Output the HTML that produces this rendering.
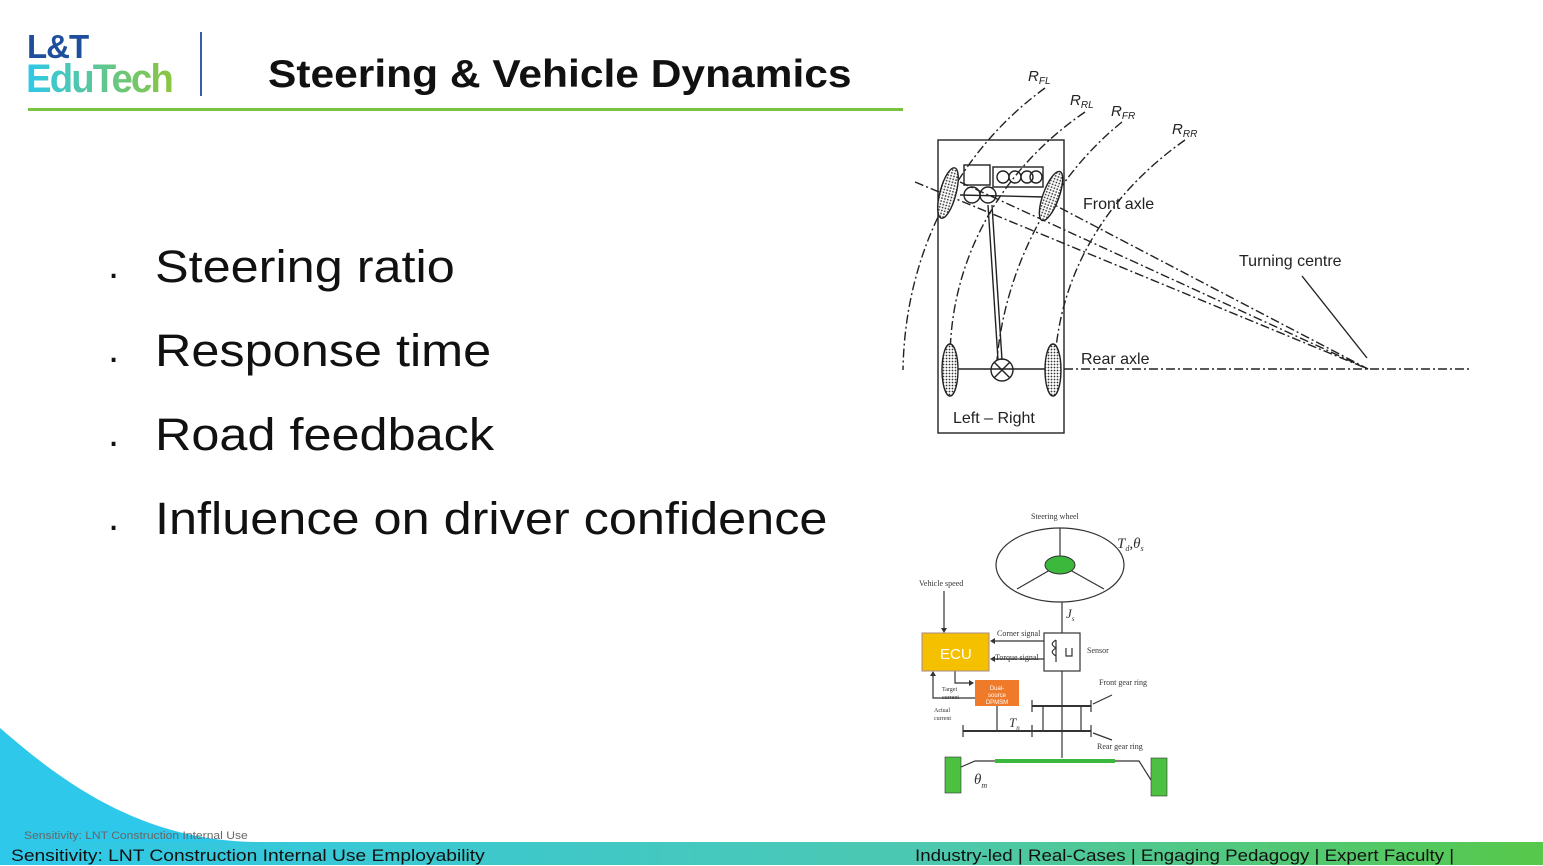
<!DOCTYPE html>
<html><head><meta charset="utf-8"><style>
body{margin:0;width:1543px;height:865px;overflow:hidden;background:#fff;font-family:"Liberation Sans",sans-serif;position:relative}
.a{position:absolute;white-space:nowrap;transform-origin:0 0}
.b{font-size:45px;color:#111;left:155px;transform:scaleX(1.12)}
.d{font-size:40px;left:108px;color:#111}
</style></head><body>
<svg width="1543" height="865" style="position:absolute;left:0;top:0">
<defs>
<linearGradient id="g" x1="0" x2="1"><stop offset="0" stop-color="#2ec8ea"/><stop offset="0.6" stop-color="#4cc8b0"/><stop offset="1" stop-color="#56c84a"/></linearGradient>
<pattern id="dots" width="3" height="3" patternUnits="userSpaceOnUse"><rect width="3" height="3" fill="#fff"/><circle cx="1.5" cy="1.5" r="0.9" fill="#333"/></pattern>
</defs>
<path d="M0 728 C60 780 140 842 260 842 L0 842 Z" fill="#2ec8ea"/>
<rect x="0" y="842" width="1543" height="23" fill="url(#g)"/>
<line x1="201" y1="32" x2="201" y2="96" stroke="#3a5ca8" stroke-width="2"/>
<rect x="28" y="108" width="875" height="3" fill="#7cc242"/>
<g fill="none" stroke="#222" stroke-width="1.4">
<rect x="938" y="140" width="126" height="293"/>
<g stroke-dasharray="9,3,2,3">
<path d="M1045 88 C960 150 905 250 903 370"/>
<path d="M1085 112 C1000 170 950 260 950 360"/>
<path d="M1122 122 C1050 180 1005 270 997 360"/>
<path d="M1185 140 C1100 200 1060 280 1055 360"/>
<line x1="1045" y1="200" x2="1368" y2="369"/>
<line x1="960" y1="182" x2="1368" y2="369"/>
<line x1="915" y1="182" x2="1368" y2="369"/>
<line x1="1064" y1="369" x2="1470" y2="369"/>
</g>
<line x1="1302" y1="276" x2="1367" y2="358"/>
<line x1="950" y1="369" x2="1053" y2="369"/>
<rect x="964" y="165" width="26" height="20"/>
<rect x="993" y="167" width="50" height="20"/>
<circle cx="1003" cy="177" r="6"/><circle cx="1015" cy="177" r="6"/><circle cx="1027" cy="177" r="6"/><circle cx="1036" cy="177" r="6"/>
<line x1="960" y1="195" x2="1045" y2="197"/>
<circle cx="972" cy="195" r="8"/><circle cx="988" cy="195" r="8"/>
<line x1="988" y1="205" x2="998" y2="360"/><line x1="992" y1="205" x2="1002" y2="360"/>
<circle cx="1002" cy="370" r="11"/>
<line x1="994" y1="362" x2="1010" y2="378"/><line x1="1010" y1="362" x2="994" y2="378"/>
<ellipse cx="948" cy="193" rx="8" ry="26" transform="rotate(15 948 193)" fill="url(#dots)"/>
<ellipse cx="1051" cy="196" rx="8" ry="26" transform="rotate(20 1051 196)" fill="url(#dots)"/>
<ellipse cx="950" cy="370" rx="8" ry="26" fill="url(#dots)"/>
<ellipse cx="1053" cy="370" rx="8" ry="26" fill="url(#dots)"/>
</g>
<g font-family="Liberation Sans,sans-serif" fill="#222" font-size="16">
<text x="1083" y="209">Front axle</text>
<text x="1239" y="266">Turning centre</text>
<text x="1081" y="364">Rear axle</text>
<text x="953" y="423">Left – Right</text>
<g font-style="italic" font-size="15"><text x="1028" y="81">R<tspan font-size="10" dy="3">FL</tspan></text>
<text x="1070" y="105">R<tspan font-size="10" dy="3">RL</tspan></text>
<text x="1111" y="116">R<tspan font-size="10" dy="3">FR</tspan></text>
<text x="1172" y="134">R<tspan font-size="10" dy="3">RR</tspan></text></g>
</g>
<g fill="none" stroke="#333" stroke-width="1.2">
<ellipse cx="1060" cy="565" rx="64" ry="37"/>
<line x1="1060" y1="528" x2="1060" y2="558"/><line x1="1050" y1="570" x2="1017" y2="589"/><line x1="1070" y1="570" x2="1104" y2="589"/>
<line x1="1062" y1="602" x2="1062" y2="633"/>
<rect x="1044" y="633" width="36" height="38" fill="#fff"/>
<path d="M1056 640 v22 M1056 640 c-5 3 -5 5 0 8 c-5 3 -5 5 0 8 M1066 648 v8 h6 v-8"/>
<line x1="1062" y1="671" x2="1062" y2="758"/>
<line x1="1032" y1="706" x2="1091" y2="706" stroke-width="2"/>
<line x1="1032" y1="700" x2="1032" y2="712"/><line x1="1091" y1="700" x2="1091" y2="712"/>
<line x1="963" y1="731" x2="1091" y2="731" stroke-width="2"/>
<line x1="963" y1="725" x2="963" y2="737"/><line x1="1091" y1="725" x2="1091" y2="737"/><line x1="1032" y1="725" x2="1032" y2="737"/>
<line x1="1043" y1="706" x2="1043" y2="731"/><line x1="1081" y1="706" x2="1081" y2="731"/>
<line x1="997" y1="706" x2="997" y2="731"/>
<line x1="1093" y1="704" x2="1112" y2="695"/><line x1="1093" y1="733" x2="1112" y2="740"/>
<line x1="944" y1="591" x2="944" y2="631"/>
<line x1="1044" y1="641" x2="992" y2="641"/><line x1="1044" y1="659" x2="992" y2="659"/>
<polyline points="955,671 955,683 973,683"/>
<polyline points="975,698 933,698 933,673"/>
<polyline points="961,767 975,761 1139,761 1151,780"/>
</g>
<path d="M944 633 l-3 -5 h6z M990 641 l5 -3 v6z M990 659 l5 -3 v6z M974 683 l-5 -3 v6z M933 671 l-3 5 h6z" fill="#333"/>
<rect x="922" y="633" width="67" height="38" fill="#f5c000" stroke="#a88"/>
<rect x="975" y="680" width="44" height="26" fill="#ee7a2a"/>
<rect x="995" y="759" width="120" height="4" fill="#3cb83c"/>
<rect x="945" y="757" width="16" height="36" fill="#4cc040" stroke="#333" stroke-width="0.6"/>
<rect x="1151" y="758" width="16" height="38" fill="#4cc040" stroke="#333" stroke-width="0.6"/>
<ellipse cx="1060" cy="565" rx="15" ry="9" fill="#3cb83c" stroke="#333"/>
<g font-family="Liberation Serif,serif" fill="#333" font-size="8">
<text x="1031" y="519">Steering wheel</text>
<text x="919" y="586">Vehicle speed</text>
<text x="997" y="636">Corner signal</text>
<text x="995" y="660">Torque signal</text>
<text x="1087" y="653">Sensor</text>
<text x="1099" y="685">Front gear ring</text>
<text x="1097" y="749">Rear gear ring</text>
<text x="942" y="691" font-size="6">Target</text><text x="942" y="699" font-size="6">current</text>
<text x="934" y="712" font-size="6">Actual</text><text x="934" y="720" font-size="6">current</text>
<g font-style="italic" font-size="15"><text x="1117" y="548">T<tspan font-size="8" dy="3">d</tspan><tspan dy="-3">,θ</tspan><tspan font-size="8" dy="3">s</tspan></text>
<text x="1066" y="618" font-size="13">J<tspan font-size="7" dy="3">s</tspan></text>
<text x="1009" y="727" font-size="13">T<tspan font-size="7" dy="3">n</tspan></text>
<text x="974" y="784">θ<tspan font-size="8" dy="4">m</tspan></text></g>
</g>
<text x="940" y="659" font-family="Liberation Sans,sans-serif" font-size="15" fill="#fff">ECU</text>
<text x="997" y="690" font-size="6" fill="#fff" text-anchor="middle" font-family="Liberation Sans">Dual-</text>
<text x="997" y="697" font-size="6" fill="#fff" text-anchor="middle" font-family="Liberation Sans">source</text>
<text x="997" y="704" font-size="6" fill="#fff" text-anchor="middle" font-family="Liberation Sans">DPMSM</text>
</svg>
<div class="a" style="left:27px;top:30px;font-size:33px;font-weight:bold;color:#1f4e9c;line-height:33px;letter-spacing:-1px">L&amp;T</div>
<div class="a" style="left:26px;top:58px;font-size:40px;font-weight:bold;line-height:42px;letter-spacing:-2px;transform:scaleX(0.96);background:linear-gradient(90deg,#2ec8ea,#8cc63f);-webkit-background-clip:text;color:transparent">EduTech</div>
<div class="a" style="left:268px;top:53px;font-size:39px;font-weight:bold;color:#111;transform:scaleX(1.09)">Steering &amp; Vehicle Dynamics</div>
<div class="a d" style="top:243px">.</div><div class="a b" style="top:241px">Steering ratio</div>
<div class="a d" style="top:327px">.</div><div class="a b" style="top:325px">Response time</div>
<div class="a d" style="top:411px">.</div><div class="a b" style="top:409px">Road feedback</div>
<div class="a d" style="top:495px">.</div><div class="a b" style="top:493px">Influence on driver confidence</div>
<div class="a" style="left:24px;top:830px;font-size:11px;color:#666;transform:scaleX(1.1)">Sensitivity: LNT Construction Internal Use</div>
<div class="a" style="left:11px;top:846px;font-size:17px;color:#111;transform:scaleX(1.13)">Sensitivity: LNT Construction Internal Use Employability</div>
<div class="a" style="left:915px;top:846px;font-size:17px;color:#111;transform:scaleX(1.1)">Industry-led | Real-Cases | Engaging Pedagogy | Expert Faculty |</div>
</body></html>
